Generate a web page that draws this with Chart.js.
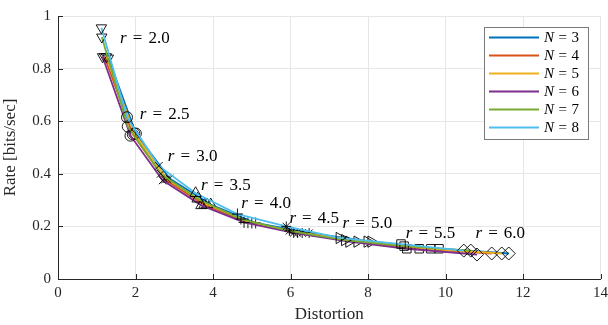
<!DOCTYPE html>
<html>
<head>
<meta charset="utf-8">
<script src="https://cdn.jsdelivr.net/npm/chart.js@4/dist/chart.umd.min.js"></script>
<style>
html,body{margin:0;padding:0;background:#fff;}
#wrap{width:608px;height:325px;position:relative;}
</style>
</head>
<body>
<div id="wrap"><canvas id="c" width="608" height="325"></canvas></div>
<script>
// ---- data ----
const rValues = ['2.0','2.5','3.0','3.5','4.0','4.5','5.0','5.5','6.0'];
const seriesNames = ['N = 3','N = 4','N = 5','N = 6','N = 7','N = 8'];
const distN3 = [1.30, 2.01, 2.88, 3.94, 5.10, 6.48, 8.08, 9.83, 11.63];
const rateN3 = [0.840, 0.553, 0.382, 0.283, 0.213, 0.175, 0.142, 0.115, 0.097];
const distN4 = [1.20, 1.93, 2.76, 3.78, 4.90, 6.18, 7.72, 9.32, 11.19];
const rateN4 = [0.845, 0.550, 0.378, 0.282, 0.214, 0.175, 0.142, 0.115, 0.097];
const distN5 = [1.25, 1.97, 2.82, 3.85, 5.00, 6.30, 7.98, 9.62, 11.45];
const rateN5 = [0.845, 0.553, 0.380, 0.283, 0.213, 0.175, 0.142, 0.115, 0.097];
const distN6 = [1.15, 1.87, 2.70, 3.70, 4.80, 6.08, 7.51, 9.00, 10.81];
const rateN6 = [0.845, 0.545, 0.375, 0.280, 0.215, 0.175, 0.142, 0.115, 0.093];
const distN7 = [1.13, 1.80, 2.65, 3.60, 4.72, 5.97, 7.40, 8.93, 10.65];
const rateN7 = [0.920, 0.580, 0.400, 0.305, 0.228, 0.183, 0.148, 0.125, 0.108];
const distN8 = [1.12, 1.78, 2.60, 3.55, 4.63, 5.89, 7.26, 8.85, 10.47];
const rateN8 = [0.955, 0.615, 0.430, 0.326, 0.247, 0.200, 0.156, 0.133, 0.108];
// label anchor positions (data coords) for "r = ..." annotations
const labelDist = [1.60, 2.11, 2.83, 3.69, 4.73, 5.97, 7.34, 8.97, 10.77];
const labelRate = [0.916, 0.624, 0.464, 0.357, 0.288, 0.231, 0.212, 0.174, 0.174];
const xTicks = [0, 2, 4, 6, 8, 10, 12, 14];
const yTicks = [0, 0.2, 0.4, 0.6, 0.8, 1];

// ---- styles ----
const colors = ['#0072BD', '#D95319', '#EDB120', '#7E2F8E', '#77AC30', '#4DBEEE'];
const markerStyles = ['triangle','circle','crossRot','triangle','cross','star','triangle','rect','rectRot'];
const markerRot = [180, 0, 0, 0, 0, 0, 90, 0, 0];
const markerRad = [6, 5.5, 5.5, 6.5, 5.5, 5, 6.5, 6, 6.5];
const serif = '"Liberation Serif", "DejaVu Serif", serif';
const textColor = '#262626';

const dists = [distN3, distN4, distN5, distN6, distN7, distN8];
const rates = [rateN3, rateN4, rateN5, rateN6, rateN7, rateN8];

const datasets = dists.map((d, i) => ({
  label: seriesNames[i],
  data: d.map((x, k) => ({x: x, y: rates[i][k]})),
  showLine: true,
  borderColor: colors[i],
  backgroundColor: colors[i],
  borderWidth: 1.8,
  pointStyle: markerStyles,
  pointRotation: markerRot,
  pointRadius: markerRad,
  pointBorderColor: '#000',
  pointBackgroundColor: 'rgba(0,0,0,0)',
  pointBorderWidth: 0.9,
  order: 5 - i
}));

function drawMathLabel(ctx, x, y, italicPart, rest, size, gapEm) {
  ctx.font = 'italic ' + size + 'px ' + serif;
  ctx.fillText(italicPart, x, y);
  let w = ctx.measureText(italicPart).width;
  ctx.font = size + 'px ' + serif;
  const gap = size * gapEm;
  ctx.fillText('=', x + w + gap, y);
  const we = ctx.measureText('=').width;
  ctx.fillText(rest, x + w + gap + we + gap, y);
}

const overlay = {
  id: 'overlay',
  afterDraw(chart) {
    const ctx = chart.ctx;
    const xs = chart.scales.x, ys = chart.scales.y;
    const a = chart.chartArea;
    ctx.save();
    // inner tick marks
    ctx.strokeStyle = '#262626';
    ctx.lineWidth = 1;
    xTicks.forEach(t => {
      const px = Math.round(xs.getPixelForValue(t)) + 0.5;
      ctx.beginPath(); ctx.moveTo(px, a.bottom); ctx.lineTo(px, a.bottom - 5); ctx.stroke();
    });
    yTicks.forEach(t => {
      const py = Math.round(ys.getPixelForValue(t)) + 0.5;
      ctx.beginPath(); ctx.moveTo(a.left, py); ctx.lineTo(a.left + 5, py); ctx.stroke();
    });
    // r labels
    ctx.fillStyle = '#000';
    ctx.textBaseline = 'middle';
    ctx.textAlign = 'left';
    rValues.forEach((r, k) => {
      drawMathLabel(ctx, xs.getPixelForValue(labelDist[k]), ys.getPixelForValue(labelRate[k]), 'r', r, 17, 0.36);
    });
    // legend box
    const lx = 484, ly = 27, lw = 104, lh = 112;
    ctx.fillStyle = '#fff';
    ctx.fillRect(lx, ly, lw, lh);
    ctx.strokeStyle = '#7a7a7a';
    ctx.lineWidth = 1;
    ctx.strokeRect(lx + 0.5, ly + 0.5, lw, lh);
    seriesNames.forEach((n, i) => {
      const yy = 37.5 + i * 18;
      ctx.strokeStyle = colors[i];
      ctx.lineWidth = 1.8;
      ctx.beginPath(); ctx.moveTo(489, yy); ctx.lineTo(539, yy); ctx.stroke();
      ctx.fillStyle = '#000';
      drawMathLabel(ctx, 544, yy + 0.5, 'N', n.split('= ')[1], 15, 0.3);
    });
    ctx.restore();
  }
};

new Chart(document.getElementById('c'), {
  type: 'scatter',
  data: { datasets: datasets },
  options: {
    responsive: false,
    animation: false,
    devicePixelRatio: 1,
    layout: { padding: { top: 16, right: 6, left: 0, bottom: 0 } },
    plugins: { legend: { display: false }, tooltip: { enabled: false } },
    scales: {
      x: {
        type: 'linear', min: 0, max: 14,
        afterBuildTicks(s) { s.ticks = xTicks.map(v => ({value: v})); },
        afterFit(s) { s.height = 46; s.paddingRight = 0; s.paddingLeft = 0; },
        grid: { color: '#e6e6e6', drawTicks: false, lineWidth: 1 },
        border: { color: '#262626', width: 1 },
        ticks: { color: textColor, font: { family: serif, size: 15 }, padding: 5, maxRotation: 0 },
        title: { display: true, text: 'Distortion', color: textColor, font: { family: serif, size: 17 }, padding: { top: 0, bottom: 0 } }
      },
      y: {
        type: 'linear', min: 0, max: 1,
        afterBuildTicks(s) { s.ticks = yTicks.map(v => ({value: v})); },
        afterFit(s) { s.width = 58; s.paddingTop = 0; s.paddingBottom = 0; },
        grid: { color: '#e6e6e6', drawTicks: false, lineWidth: 1 },
        border: { color: '#262626', width: 1 },
        ticks: { color: textColor, font: { family: serif, size: 15 }, padding: 7,
                 callback: v => String(v) },
        title: { display: true, text: 'Rate [bits/sec]', color: textColor, font: { family: serif, size: 17 }, padding: { top: 0, bottom: 2 } }
      }
    }
  },
  plugins: [overlay]
});
</script>
</body>
</html>
